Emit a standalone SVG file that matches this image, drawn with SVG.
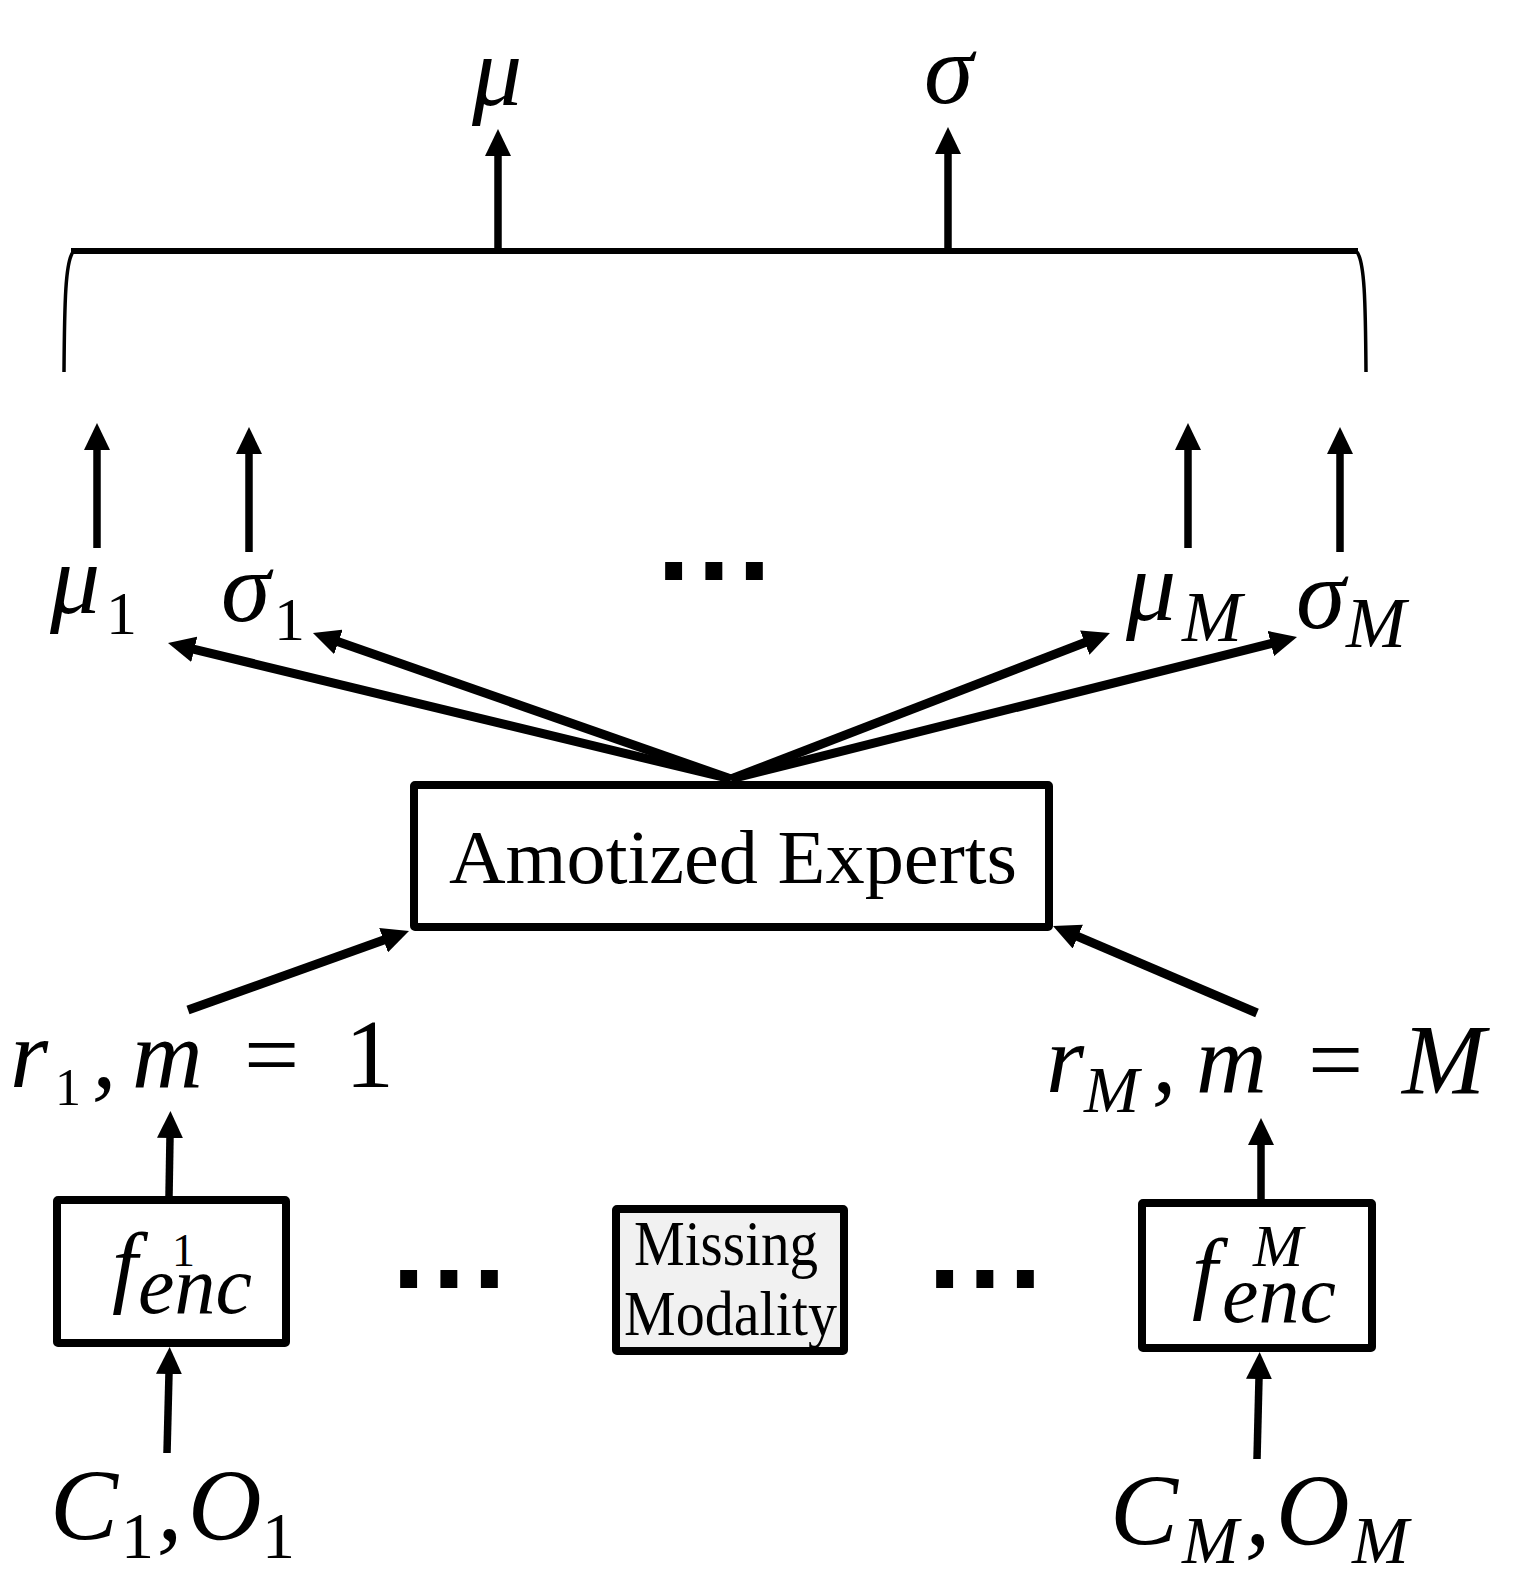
<svg xmlns="http://www.w3.org/2000/svg" width="1526" height="1580" viewBox="0 0 1526 1580">
<style>
.math{font-family:"Liberation Serif","DejaVu Serif",serif;font-style:italic;fill:#000}
.up{font-style:normal}
.lbl{font-family:"Liberation Serif","DejaVu Serif",serif;fill:#000}
.dots{font-family:"Liberation Sans","DejaVu Sans",sans-serif;font-weight:bold;font-size:120px;letter-spacing:7px;fill:#000}
.box{fill:#fff;stroke:#000;stroke-width:8;stroke-linejoin:round}
.gray{fill:#f1f1f1}
.thin{stroke:#000;stroke-width:7.5;fill:none}
.thick{stroke:#000;stroke-width:9;fill:none}
</style>
<defs>
<marker id="ah" markerUnits="userSpaceOnUse" markerWidth="27" markerHeight="26" viewBox="0 0 27 26" refX="1" refY="13" orient="auto">
<path d="M0,0 L27,13 L0,26 z" fill="#000"/>
</marker>
</defs>
<rect width="1526" height="1580" fill="#fff"/>

<g id="outputs">
<text class="math" font-size="100"><tspan x="472" y="105">μ</tspan></text>
<text class="math" font-size="100"><tspan x="924" y="103">σ</tspan></text>
</g>

<g id="brace">
<line x1="71" y1="251" x2="1358" y2="251" stroke="#000" stroke-width="6"/>
<path d="M64,372 C64.5,300 65.5,262 73,252" stroke="#000" stroke-width="3.5" fill="none"/>
<path d="M1366,372 C1365.5,300 1364.5,262 1357,252" stroke="#000" stroke-width="3.5" fill="none"/>
</g>

<g id="expert-outputs">
<text class="math" font-size="100"><tspan x="50" y="613">μ</tspan><tspan class="up" x="106" y="634" font-size="62">1</tspan></text>
<text class="math" font-size="100"><tspan x="221" y="621">σ</tspan><tspan class="up" x="274" y="640" font-size="62">1</tspan></text>
<text class="dots" x="657" y="580">...</text>
<text class="math" font-size="100"><tspan x="1126" y="620">μ</tspan><tspan x="1182" y="641" font-size="72">M</tspan></text>
<text class="math" font-size="100"><tspan x="1296" y="628">σ</tspan><tspan x="1346" y="647" font-size="72">M</tspan></text>
</g>

<g id="amortized-experts">
<rect class="box" x="414" y="785" width="635" height="142" rx="1"/>
<text class="lbl" x="449" y="883" font-size="76" textLength="568" lengthAdjust="spacingAndGlyphs">Amotized Experts</text>
</g>

<g id="r1-label">
<text class="math" font-size="98"><tspan x="10" y="1087">r</tspan><tspan class="up" x="55" y="1105" font-size="52">1</tspan><tspan x="92" y="1087">,</tspan><tspan x="132" y="1087">m</tspan><tspan class="up" x="244" y="1087">=</tspan><tspan class="up" x="345" y="1087">1</tspan></text>
</g>

<g id="rM-label">
<text class="math" font-size="98"><tspan x="1046" y="1092">r</tspan><tspan x="1084" y="1112" font-size="66">M</tspan><tspan x="1152" y="1092">,</tspan><tspan x="1196" y="1092">m</tspan><tspan class="up" x="1308" y="1092">=</tspan><tspan x="1402" y="1093" font-size="100">M</tspan></text>
</g>

<g id="f-enc-1">
<rect class="box" x="57" y="1200" width="229" height="143" rx="1"/>
<text class="math" font-size="82"><tspan x="112" y="1296" font-size="92">f</tspan><tspan class="up" x="172" y="1266" font-size="46">1</tspan><tspan x="138" y="1313">enc</tspan></text>
</g>

<g id="missing-modality">
<rect class="box gray" x="616" y="1209" width="228" height="142" rx="1"/>
<text class="lbl" font-size="63"><tspan x="634" y="1265" textLength="184" lengthAdjust="spacingAndGlyphs">Missing</tspan><tspan x="624" y="1335" textLength="213" lengthAdjust="spacingAndGlyphs">Modality</tspan></text>
</g>

<g id="dots-left"><text class="dots" x="392" y="1288">...</text></g>
<g id="dots-right"><text class="dots" x="928" y="1288">...</text></g>

<g id="f-enc-M">
<rect class="box" x="1142" y="1203" width="230" height="145" rx="1"/>
<text class="math" font-size="82"><tspan x="1192" y="1302" font-size="92">f</tspan><tspan x="1253" y="1266" font-size="60">M</tspan><tspan x="1222" y="1322">enc</tspan></text>
</g>

<g id="input-1">
<text class="math" font-size="102"><tspan x="50" y="1540">C</tspan><tspan class="up" x="121" y="1558" font-size="66">1</tspan><tspan x="157" y="1540">,</tspan><tspan x="188" y="1540">O</tspan><tspan class="up" x="262" y="1558" font-size="66">1</tspan></text>
</g>

<g id="input-M">
<text class="math" font-size="102"><tspan x="1110" y="1545">C</tspan><tspan x="1182" y="1563" font-size="68">M</tspan><tspan x="1245" y="1545">,</tspan><tspan x="1276" y="1545">O</tspan><tspan x="1352" y="1563" font-size="68">M</tspan></text>
</g>

<g id="connectors">
<line class="thin" x1="498" y1="254" x2="498" y2="155" marker-end="url(#ah)"/>
<line class="thin" x1="948" y1="251" x2="948" y2="153" marker-end="url(#ah)"/>
<line class="thin" x1="97" y1="548" x2="97" y2="449" marker-end="url(#ah)"/>
<line class="thin" x1="249" y1="552" x2="249" y2="453" marker-end="url(#ah)"/>
<line class="thin" x1="1188" y1="548" x2="1188" y2="449" marker-end="url(#ah)"/>
<line class="thin" x1="1340" y1="552" x2="1340" y2="453" marker-end="url(#ah)"/>
<line class="thick" x1="731" y1="779" x2="193.3" y2="649.1" marker-end="url(#ah)"/>
<line class="thick" x1="731" y1="779" x2="337.5" y2="641.6" marker-end="url(#ah)"/>
<line class="thick" x1="731" y1="779" x2="1085.7" y2="642.3" marker-end="url(#ah)"/>
<line class="thick" x1="731" y1="779" x2="1271.8" y2="643.3" marker-end="url(#ah)"/>
<line class="thick" x1="188" y1="1010" x2="384.5" y2="939.8" marker-end="url(#ah)"/>
<line class="thick" x1="1257" y1="1013" x2="1076.9" y2="936.2" marker-end="url(#ah)"/>
<line class="thin" x1="169" y1="1196" x2="170" y2="1137" marker-end="url(#ah)"/>
<line class="thin" x1="1261" y1="1199" x2="1261" y2="1144" marker-end="url(#ah)"/>
<line class="thin" x1="167" y1="1453" x2="169" y2="1373" marker-end="url(#ah)"/>
<line class="thin" x1="1257" y1="1459" x2="1259" y2="1378" marker-end="url(#ah)"/>
</g>
</svg>
